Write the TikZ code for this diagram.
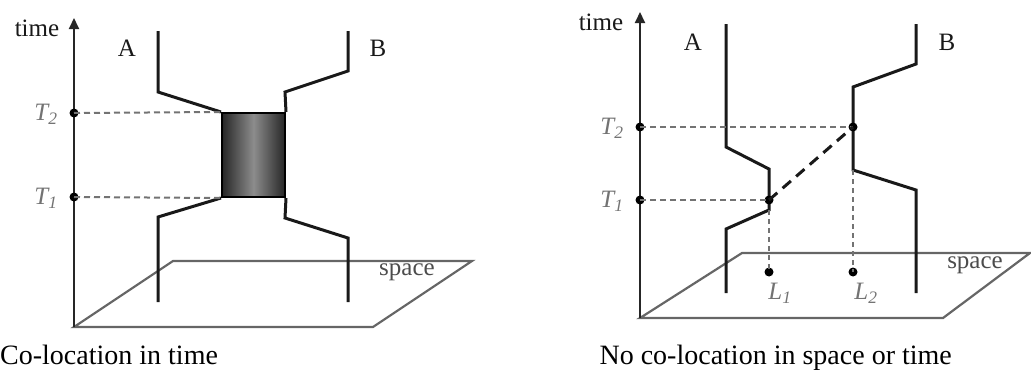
\documentclass[tikz,border=0pt]{standalone}
\usepackage{fontspec}
\setmainfont{Liberation Serif}
\usetikzlibrary{arrows.meta}
\begin{document}
\begin{tikzpicture}[x=1pt,y=-1pt,
  traj/.style={line width=3pt, black!90, line join=miter},
  axisline/.style={line width=2pt, black!85, -{Triangle[length=11pt,width=10pt]}},
  plane/.style={line width=2.2pt, black!60, line join=miter},
  guide/.style={black!55, line width=2pt, dash pattern=on 6pt off 4pt},
  drop/.style={black!55, line width=1.6pt, dash pattern=on 5pt off 4pt},
  link/.style={black!90, line width=3pt, dash pattern=on 11pt off 7pt},
  dot/.style={circle, fill=black, inner sep=0pt, minimum size=9pt},
  lbl/.style={font=\fontsize{25}{25}\selectfont, text=black!90, inner sep=0pt},
  tlbl/.style={font=\fontsize{25}{25}\selectfont\itshape, text=black!55, inner sep=0pt},
  splbl/.style={font=\fontsize{25}{25}\selectfont, text=black!70, inner sep=0pt},
  captxt/.style={font=\fontsize{28}{28}\selectfont, text=black, inner sep=0pt},
  coloc/.style={draw=black, line width=2pt, left color=black!85, right color=black!85, middle color=black!45, minimum width=63pt, minimum height=84pt, inner sep=0pt}
]
\useasboundingbox (0,0) rectangle (1031,372);

% ================= LEFT PANEL =================
\coordinate (lO) at (74,327);
\coordinate (ltop) at (74,18);
\coordinate (lPa) at (173,261);
\coordinate (lPb) at (472,261);
\coordinate (lPc) at (373,327);
\draw[plane] (lO) -- (lPa) -- (lPb) -- (lPc) -- cycle;
\draw[axisline] (lO) -- (ltop);

\node[coloc] (lbox) at (253.5,155) {};

\coordinate (lAtop) at (158,31);
\coordinate (lA1) at (158,92);
\coordinate (lA2) at (158,217);
\coordinate (lAbot) at (158,302);
\draw[traj] (lAtop) -- (lA1) -- (lbox.north west);
\draw[traj] (lbox.south west) -- (lA2) -- (lAbot);

\coordinate (lBtop) at (348,31);
\coordinate (lB1) at (348,71);
\coordinate (lB2) at (285,92);
\coordinate (lB3) at (285,218);
\coordinate (lB4) at (348,238);
\coordinate (lBbot) at (348,302);
\draw[traj] (lBtop) -- (lB1) -- (lB2) -- (lbox.north east);
\draw[traj] (lbox.south east) -- (lB3) -- (lB4) -- (lBbot);

\node[dot] (lT2) at (74,113) {};
\node[dot] (lT1) at (74,197) {};
\draw[guide] (lT2.center) -- (lbox.north west);
\draw[guide] (lT1.center) -- (lbox.south west);

\node[lbl] (ltime) at (37,28) {time};
\node[lbl] (lAl) at (127,48) {A};
\node[lbl] (lBl) at (378,48) {B};
\node[tlbl] (lT2l) at (46,114) {T\textsubscript{2}};
\node[tlbl] (lT1l) at (46,198) {T\textsubscript{1}};
\node[splbl] (lspace) at (407,272) {space};

\node[captxt, anchor=base west] (lcap) at (0,364) {Co-location in time};

% ================= RIGHT PANEL =================
\coordinate (rO) at (640,318);
\coordinate (rtop) at (640,12);
\coordinate (rPa) at (742,253);
\coordinate (rPb) at (1030,253);
\coordinate (rPc) at (943,318);
\draw[plane] (rO) -- (rPa) -- (rPb) -- (rPc) -- cycle;
\draw[axisline] (rO) -- (rtop);

\coordinate (rAtop) at (726,24);
\coordinate (rA1) at (726,147);
\coordinate (rA2) at (769,169);
\coordinate (rA3) at (769,210);
\coordinate (rA4) at (726,229);
\coordinate (rAbot) at (726,293);
\draw[traj] (rAtop) -- (rA1) -- (rA2) -- (rA3) -- (rA4) -- (rAbot);

\coordinate (rBtop) at (916,24);
\coordinate (rB1) at (916,64);
\coordinate (rB2) at (853,87);
\coordinate (rB3) at (853,170);
\coordinate (rB4) at (916,190);
\coordinate (rBbot) at (916,293);
\draw[traj] (rBtop) -- (rB1) -- (rB2) -- (rB3) -- (rB4) -- (rBbot);

\node[dot] (rT2) at (640,127) {};
\node[dot] (rT1) at (640,200) {};
\node[dot] (rP2) at (853,127) {};
\node[dot] (rP1) at (769,200) {};
\node[dot] (rL1) at (769,272) {};
\node[dot] (rL2) at (853,272) {};

\draw[guide] (rT2.center) -- (rP2.center);
\draw[guide] (rT1.center) -- (rP1.center);
\draw[link] (rP1.center) -- (rP2.center);
\draw[drop] (rA3) -- (rL1.center);
\draw[drop] (rB3) -- (rL2.center);

\node[lbl] (rtime) at (601,22) {time};
\node[lbl] (rAl) at (693,42) {A};
\node[lbl] (rBl) at (947,42) {B};
\node[tlbl] (rT2l) at (612,128) {T\textsubscript{2}};
\node[tlbl] (rT1l) at (612,201) {T\textsubscript{1}};
\node[tlbl] (rL1l) at (780,293) {L\textsubscript{1}};
\node[tlbl] (rL2l) at (866,293) {L\textsubscript{2}};
\node[splbl] (rspace) at (975,265) {space};

\node[captxt, anchor=base east] (rcap) at (952,364) {No co-location in space or time};
\end{tikzpicture}
\end{document}
